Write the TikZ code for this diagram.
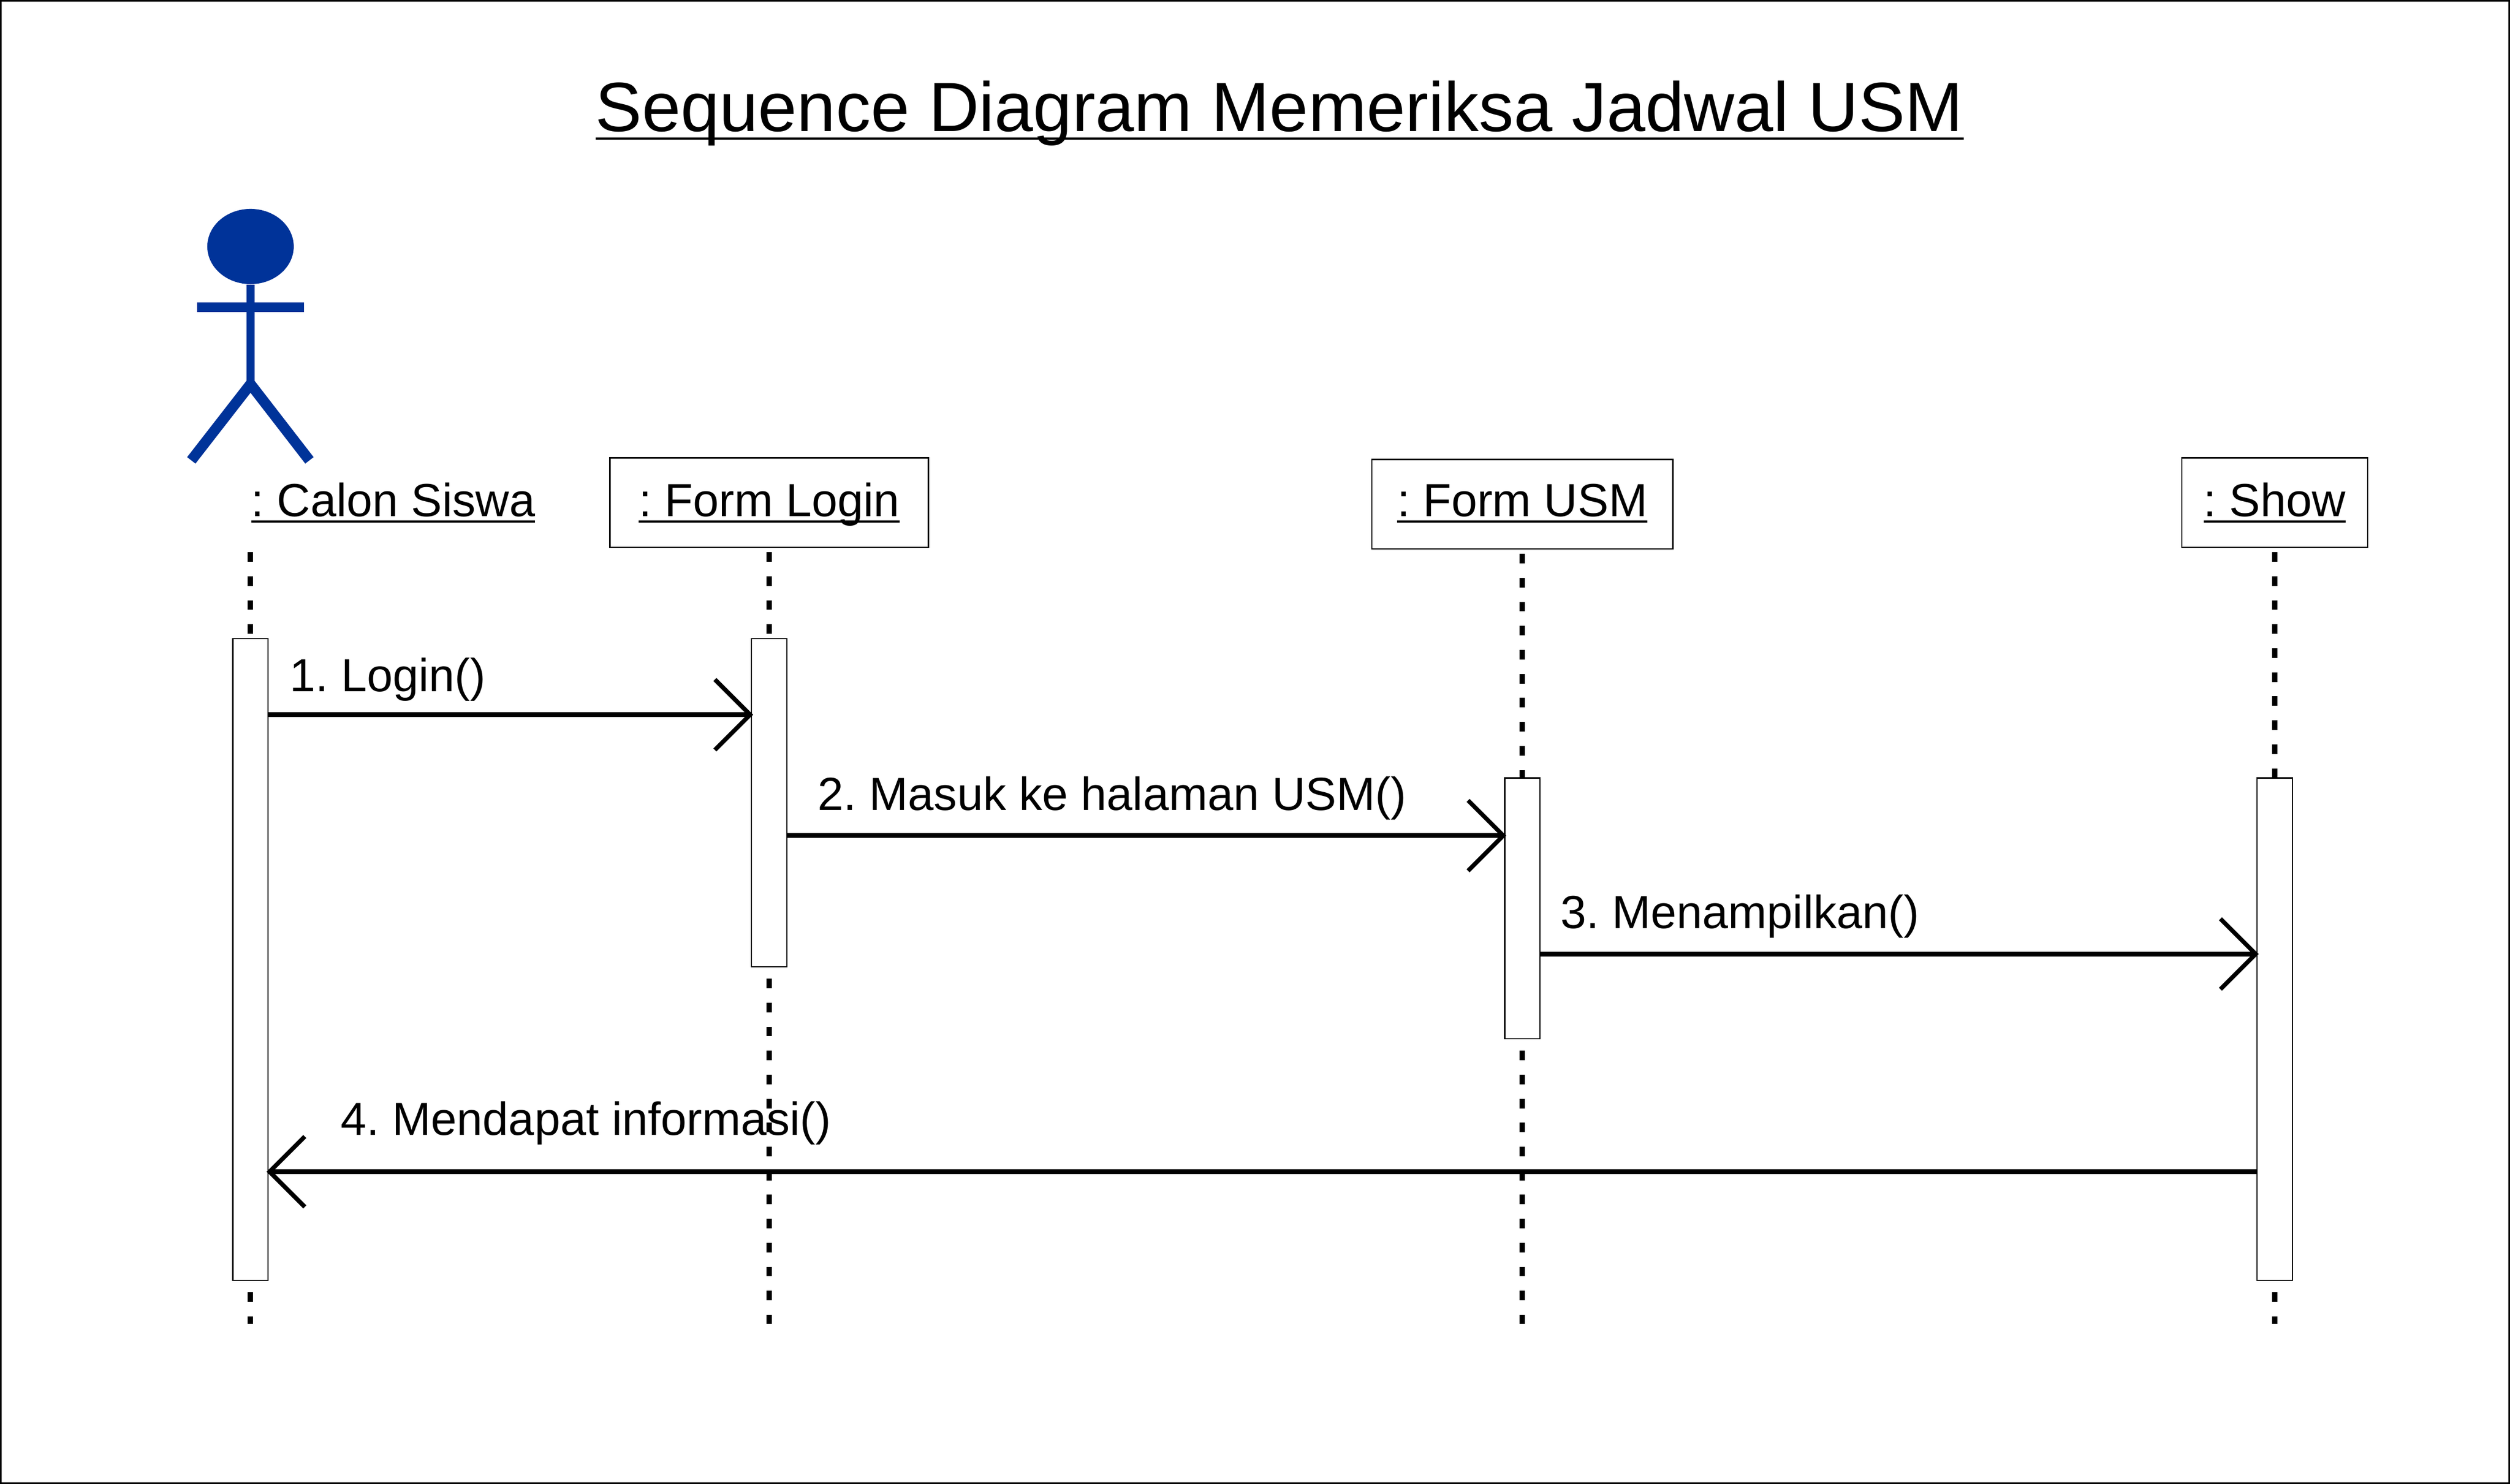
\documentclass[tikz,border=0pt]{standalone}
\usepackage{fontspec}
\usepackage{tikz}
\usetikzlibrary{arrows.meta, shapes.geometric}
\setmainfont{Liberation Sans}
\newsavebox{\ulinebox}
\newcommand{\undertext}[2]{\sbox{\ulinebox}{#2}\rlap{\usebox{\ulinebox}}\raisebox{-#1}{\rule{\wd\ulinebox}{0.7pt}}}
\definecolor{actorblue}{HTML}{003399}
\tikzset{
    objbox/.style={draw, line width=0.4pt, inner sep=0pt, outer sep=0pt, minimum height=28pt, font=\frenchspacing\fontsize{14.5}{17}\selectfont, text height=11pt, text depth=2.5pt},
    objname/.style={inner sep=0pt, outer sep=0pt, anchor=base west, font=\frenchspacing\fontsize{14.5}{17}\selectfont},
    bar/.style={draw, fill=white, line width=0.4pt, inner sep=0pt, outer sep=0pt, minimum width=11pt, anchor=north},
    lifeline/.style={line width=1.65pt, dash pattern=on 3pt off 4.5pt},
    msg/.style={line width=1.5pt, shorten >=-0.5pt, -{Straight Barb[length=11pt, width=22pt, line width=1.35pt]}},
    actorline/.style={actorblue, line width=3pt}
}
\begin{document}
\begin{tikzpicture}[x=0.5pt, y=-0.5pt]
    \useasboundingbox (0, 0) rectangle (1568, 927);
    \draw[line width=0.5pt] (0.5, 0.5) rectangle (1567.5, 926.5);
    \node[objname, font=\frenchspacing\fontsize{21.78}{26}\selectfont] (title) at (372, 82) {\undertext{2.6pt}{Sequence Diagram Memeriksa Jadwal USM}};
    % actor
    \node[ellipse, fill=actorblue, inner sep=0pt, minimum width=27pt, minimum height=23.5pt] (head) at (156.5, 154) {};
    \coordinate (hip) at (156.5, 240);
    \coordinate (handl) at (123, 192);
    \coordinate (handr) at (190, 192);
    \coordinate (footl) at (119.5, 287.6);
    \coordinate (footr) at (193.3, 287.6);
    \draw[actorline, line width=2.6pt] (head.south) -- (hip);
    \draw[actorline] (handl) -- (handr);
    \draw[actorline, line width=3.3pt] (footl) -- (hip) -- (footr);
    % objects
    \node[objname] (calon) at (157, 322.5) {\undertext{2.05pt}{: Calon Siswa}};
    \node[objbox, minimum width=99.5pt] (login) at (480.5, 314) {\undertext{2.05pt}{: Form Login}};
    \node[objbox, minimum width=94pt, text height=10.5pt, text depth=3pt] (usm) at (951, 315) {\undertext{2.05pt}{: Form USM}};
    \node[objbox, minimum width=58pt] (show) at (1421, 314) {\undertext{2.05pt}{: Show}};
    % activation bars
    \node[bar, minimum height=200.5pt] (calonbar) at (156.5, 399) {};
    \node[bar, minimum height=102.5pt] (loginbar) at (480.5, 399) {};
    \node[bar, minimum height=81.5pt] (usmbar) at (951, 486) {};
    \node[bar, minimum height=157pt] (showbar) at (1421, 486) {};
    % lifelines
    \coordinate (calontop) at (156.5, 345);
    \draw[lifeline] (calontop) -- (calonbar.north);
    \foreach \a in {login, usm, show}
        \draw[lifeline, shorten <=1.5pt] (\a.south) -- (\a bar.north);
    \foreach \a in {calon, login, usm, show}
        \draw[lifeline, shorten <=3.7pt] (\a bar.south) -- (\a bar.south |- 0, 827);
    % messages
    \draw[msg] (calonbar.east |- 0, 446.5) -- (loginbar.west |- 0, 446.5);
    \draw[msg] (loginbar.east |- 0, 522) -- (usmbar.west |- 0, 522);
    \draw[msg] (usmbar.east |- 0, 596) -- (showbar.west |- 0, 596);
    \draw[msg] (showbar.west |- 0, 732) -- (calonbar.east |- 0, 732);
    \node[objname] (m1) at (181, 432) {1. Login()};
    \node[objname] (m2) at (511, 506) {2. Masuk ke halaman USM()};
    \node[objname] (m3) at (975, 580) {3. Menampilkan()};
    \node[objname] (m4) at (213, 709) {4. Mendapat informasi()};
\end{tikzpicture}
\end{document}
